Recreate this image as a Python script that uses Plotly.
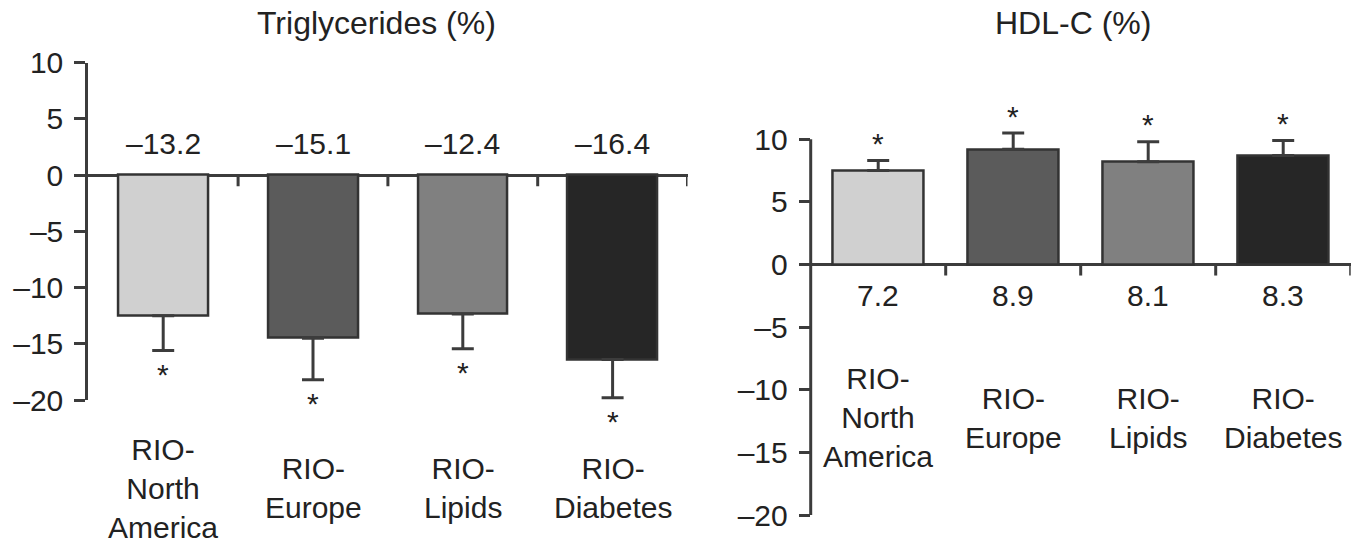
import plotly.graph_objects as go

# the page body margin is removed (see post_script), so the figure fills the 1366x546 window
OX, OY = 0, 0
W, H = 1366, 546

categories = ["RIO-<br>North<br>America", "RIO-<br>Europe", "RIO-<br>Lipids", "RIO-<br>Diabetes"]
bar_colors = ["#d0d0d0", "#5b5b5b", "#808080", "#262626"]

# Triglycerides (%) panel
tg_values = [-12.5, -14.5, -12.35, -16.4]
tg_err = [3.1, 3.7, 3.1, 3.4]
tg_labels = ["\u201313.2", "\u201315.1", "\u201312.4", "\u201316.4"]

# HDL-C (%) panel
hdl_values = [7.5, 9.2, 8.2, 8.7]
hdl_err = [0.8, 1.3, 1.6, 1.2]
hdl_labels = ["7.2", "8.9", "8.1", "8.3"]

y_ticks = [-20, -15, -10, -5, 0, 5, 10]
y_ticktext = ["\u201320", "\u201315", "\u201310", "\u20135", "0", "5", "10"]
y_min, y_max = -20, 10

FONT = "Liberation Sans, Arial, Helvetica, sans-serif"
TXT = "#222222"
AX = "#3c3c3c"
FS = 30

xs = list(range(len(categories)))


def px_x(p):
    return (p - OX) / W


def px_y(p):
    return 1 - (p - OY) / H


# axis geometry (reference pixels)
L_X0, L_X1, L_YTOP, L_YBOT = 88.3, 687.5, 62.7, 400.0
R_X0, R_X1, R_YTOP, R_YBOT = 810.7, 1350.7, 139.3, 515.0
# extra headroom above 10 on the right panel so error bars / asterisks above 10 are not clipped
R_EXTRA = 3
r_ppu = (R_YBOT - R_YTOP) / (y_max - y_min)
R_YTOP_EXT = R_YTOP - R_EXTRA * r_ppu

fig = go.Figure()
fig.add_trace(go.Bar(
    x=xs, y=tg_values, width=0.6, xaxis="x", yaxis="y", cliponaxis=False,
    marker=dict(color=bar_colors, line=dict(color="#333333", width=2.5)),
    error_y=dict(type="data", symmetric=False, array=[0]*4, arrayminus=tg_err,
                 color=AX, thickness=3, width=11),
    showlegend=False, hoverinfo="skip"))
fig.add_trace(go.Bar(
    x=xs, y=hdl_values, width=0.667, xaxis="x2", yaxis="y2", cliponaxis=False,
    marker=dict(color=bar_colors, line=dict(color="#333333", width=2.5)),
    error_y=dict(type="data", symmetric=False, array=hdl_err, arrayminus=[0]*4,
                 color=AX, thickness=3, width=11),
    showlegend=False, hoverinfo="skip"))

yax_common = dict(
    tickvals=y_ticks, ticktext=y_ticktext,
    ticks="outside", ticklen=11, tickwidth=3, tickcolor=AX,
    ticklabelstandoff=5, automargin=False,
    showgrid=False, zeroline=True, zerolinewidth=3, zerolinecolor=AX,
    tickfont=dict(family=FONT, size=FS, color=TXT),
)
xax_common = dict(range=[-0.5, 3.5], showline=False, showgrid=False, automargin=False,
                  zeroline=False, showticklabels=False, ticks="")

fig.update_layout(
    width=W, height=H, margin=dict(l=0, r=0, t=0, b=0, autoexpand=False),
    paper_bgcolor="white", plot_bgcolor="white",
    font=dict(family=FONT, color=TXT),
    xaxis=dict(domain=[px_x(L_X0), px_x(L_X1)], anchor="y", **xax_common),
    yaxis=dict(domain=[px_y(L_YBOT), px_y(L_YTOP)], anchor="x", range=[y_min, y_max],
               showline=True, linewidth=3, linecolor=AX, **yax_common),
    xaxis2=dict(domain=[px_x(R_X0), px_x(R_X1)], anchor="y2", **xax_common),
    yaxis2=dict(domain=[px_y(R_YBOT), px_y(R_YTOP_EXT)], anchor="x2",
                range=[y_min, y_max + R_EXTRA], showline=False, **yax_common),
    bargap=0,
)

shapes = []
anns = []
# right panel vertical axis line only from -20 to 10
shapes.append(dict(type="line", xref="x2 domain", yref="y2", x0=0, x1=0,
                   y0=y_min, y1=y_max, line=dict(color=AX, width=3)))
for xr, yr in (("x", "y"), ("x2", "y2")):
    for i in xs:
        shapes.append(dict(type="line", xref=xr, yref=yr, ysizemode="pixel", yanchor=0,
                           x0=i + 0.5, x1=i + 0.5, y0=0, y1=-11,
                           line=dict(color=AX, width=3)))

for i in xs:
    # value labels
    anns.append(dict(xref="x", yref="y", x=i, y=2.8, text=tg_labels[i], showarrow=False,
                     xanchor="center", yanchor="middle", font=dict(size=FS, family=FONT, color=TXT)))
    anns.append(dict(xref="x2", yref="y2", x=i, y=-2.45, text=hdl_labels[i], showarrow=False,
                     xanchor="center", yanchor="middle", font=dict(size=FS, family=FONT, color=TXT)))
    # asterisks beyond error bars
    anns.append(dict(xref="x", yref="y", x=i, y=tg_values[i] - tg_err[i], text="*",
                     showarrow=False, xanchor="center", yanchor="middle", yshift=-24,
                     font=dict(size=FS, family=FONT, color=TXT)))
    anns.append(dict(xref="x2", yref="y2", x=i, y=hdl_values[i] + hdl_err[i], text="*",
                     showarrow=False, xanchor="center", yanchor="middle", yshift=17,
                     font=dict(size=FS, family=FONT, color=TXT)))
    # category labels
    anns.append(dict(xref="x", yref="paper", x=i, y=px_y(488), text=categories[i],
                     showarrow=False, xanchor="center", yanchor="middle",
                     font=dict(size=FS, family=FONT, color=TXT)))
    anns.append(dict(xref="x2", yref="paper", x=i, y=px_y(418), text=categories[i],
                     showarrow=False, xanchor="center", yanchor="middle",
                     font=dict(size=FS, family=FONT, color=TXT)))

anns.append(dict(xref="paper", yref="paper", x=px_x(376), y=px_y(23.5), text="Triglycerides (%)",
                 showarrow=False, xanchor="center", yanchor="middle",
                 font=dict(size=32, family=FONT, color=TXT)))
anns.append(dict(xref="paper", yref="paper", x=px_x(1073), y=px_y(23.5), text="HDL-C (%)",
                 showarrow=False, xanchor="center", yanchor="middle",
                 font=dict(size=32, family=FONT, color=TXT)))

fig.update_layout(shapes=shapes, annotations=anns)
fig.write_html("out.html", config={"displayModeBar": False},
               post_script="document.body.style.margin='0';document.body.style.overflow='hidden';")
